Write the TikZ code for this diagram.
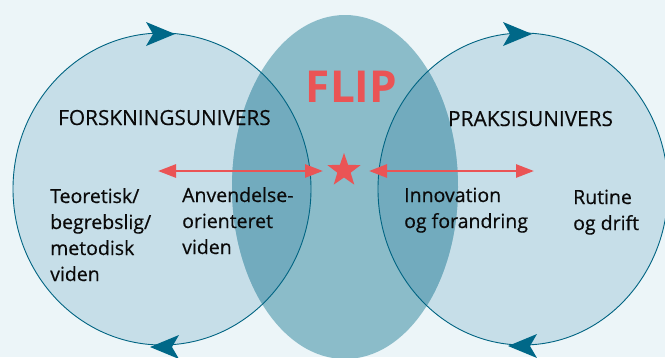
\documentclass[tikz,border=0pt]{standalone}
\usepackage{fontspec}
\setmainfont{Open Sans}
\newfontfamily\medfont[FakeBold=0.5]{Open Sans}
\newfontfamily\headfont[FakeBold=0.3]{Open Sans}
\usetikzlibrary{arrows.meta,shapes.geometric}
\definecolor{bgcol}{RGB}{236,245,248}
\definecolor{circfill}{RGB}{198,222,232}
\definecolor{flipfill}{RGB}{139,188,201}
\definecolor{overlapfill}{RGB}{114,171,190}
\definecolor{linecol}{RGB}{0,100,130}
\definecolor{headcol}{RGB}{0,104,136}
\definecolor{flipred}{RGB}{234,84,85}
\definecolor{txtcol}{RGB}{10,10,10}
\tikzset{
  universe/.style={draw=linecol, line width=0.9pt},
  redarrow/.style={flipred, line width=2.7pt, {Triangle[length=18pt,width=13pt]}-{Triangle[length=18pt,width=13pt]}},
  heading/.style={font=\headfont\fontsize{20.8}{24}\selectfont, text=txtcol, inner sep=0pt, anchor=base west},
  body/.style={font=\medfont\fontsize{19.5}{26}\selectfont, text=txtcol, inner sep=0pt, anchor=base west, align=left},
  cyclehead/.pic={\fill[headcol] (0,0) -- (-29,-12) -- (-22,0) -- (-29,12) -- cycle;}
}
\begin{document}
\begin{tikzpicture}[x=1pt,y=-1pt]
\useasboundingbox (0,0) rectangle (665,357);
\fill[bgcol] (0,0) rectangle (665,357);
% universes
\fill[circfill] (162,189) ellipse [x radius=149pt, y radius=156pt];
\fill[circfill] (523,189) ellipse [x radius=145pt, y radius=156pt];
% FLIP zone
\fill[flipfill] (345,187) ellipse [x radius=113pt, y radius=172pt];
\begin{scope}
  \clip (345,187) ellipse [x radius=113pt, y radius=172pt];
  \fill[overlapfill] (162,189) ellipse [x radius=149pt, y radius=156pt];
  \fill[overlapfill] (523,189) ellipse [x radius=145pt, y radius=156pt];
\end{scope}
\draw[universe] (162,189) ellipse [x radius=149pt, y radius=156pt];
\draw[universe] (523,189) ellipse [x radius=145pt, y radius=156pt];
% cycle arrowheads
\pic at (175,34) {cyclehead};
\pic[xscale=-1] at (150,347) {cyclehead};
\pic at (532,34) {cyclehead};
\pic[xscale=-1] at (508,346) {cyclehead};
% red arrows and star
\coordinate (la) at (158,171);
\coordinate (lb) at (323,171);
\coordinate (ra) at (369,171);
\coordinate (rb) at (534,171);
\draw[redarrow] (la) -- (lb);
\draw[redarrow] (ra) -- (rb);
\node[star, star points=5, star point ratio=2.5, fill=flipred, minimum size=35pt, inner sep=0pt] (star) at (344,170.5) {};
% texts
\node[font=\fontsize{44}{50}\selectfont\bfseries, text=flipred, inner sep=0pt, anchor=base] (flip) at (351.5,102) {FLIP};
\node[heading] (forsk) at (58,125) {FORSKNINGSUNIVERS};
\node[heading] (praksis) at (448,126) {PRAKSISUNIVERS};
\node[body] (teo) at (50,281) {Teoretisk/\\begrebslig/\\metodisk\\viden};
\node[body] (anv) at (182,254) {Anvendelse-\\orienteret\\viden};
\node[body] (inno) at (404,228) {Innovation\\og forandring};
\node[body] (rut) at (573,230) {Rutine\\og drift};
\end{tikzpicture}
\end{document}
